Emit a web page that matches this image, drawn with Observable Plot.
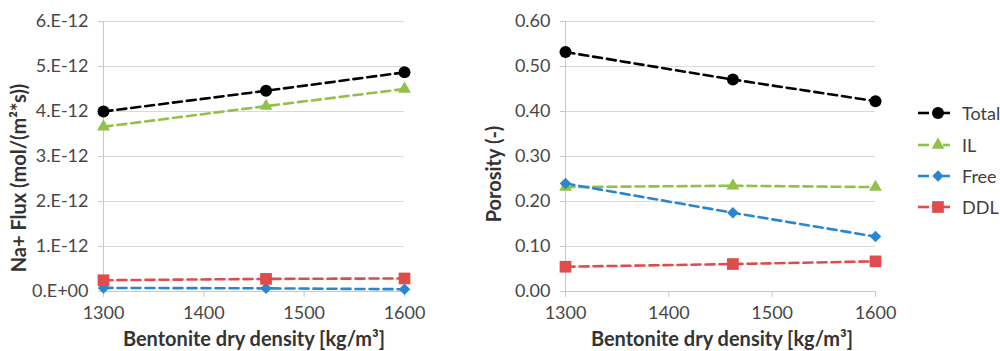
<!DOCTYPE html>
<html>
<head>
<meta charset="utf-8">
<script src="https://cdn.jsdelivr.net/npm/d3@7"></script>
<script src="https://cdn.jsdelivr.net/npm/@observablehq/plot@0.6"></script>
<style>
  body { margin: 0; background: #fff; }
  #wrap { position: relative; width: 1000px; height: 351px; overflow: hidden; font-family: Lato, "Open Sans", sans-serif; }
  .panel { position: absolute; top: 0; }
  .panel svg { overflow: visible; }
  .xtitle, .ytitle { position: absolute; font-weight: bold; font-size: 20px; color: #333; white-space: nowrap; }
  .xtitle { transform: translate(-50%, -50%); }
  .ytitle { transform: translate(-50%, -50%) rotate(-90deg); }
  .legend-row { position: absolute; left: 916px; height: 16px; display: flex; align-items: center; font-size: 18px; color: #404040; }
  .legend-row svg { margin-right: 10px; }
</style>
</head>
<body>
<div id="wrap"></div>
<script>
// Bentonite dry density (kg/m3) at which both quantities were evaluated
const density = [1300, 1462, 1600];

// Legend / series definitions
const seriesNames = ["Total", "IL", "Free", "DDL"];
const seriesColors = ["#000000", "#92c04a", "#2a87cf", "#e04b4b"];
const seriesSymbols = ["circle", "triangle", "diamond2", "square"];
const seriesRadius = [6, 4.8, 5.2, 6.6];

// Na+ flux, mol/(m2*s)
const fluxTotal = [4.0e-12, 4.46e-12, 4.87e-12];
const fluxIL = [3.66e-12, 4.12e-12, 4.5e-12];
const fluxFree = [0.08e-12, 0.07e-12, 0.05e-12];
const fluxDDL = [0.25e-12, 0.28e-12, 0.29e-12];

// Porosity, -
const porTotal = [0.532, 0.471, 0.423];
const porIL = [0.232, 0.235, 0.232];
const porFree = [0.240, 0.175, 0.122];
const porDDL = [0.055, 0.061, 0.067];

// Axis ticks
const xTicks = [1300, 1400, 1500, 1600];
const fluxTicks = [0, 1e-12, 2e-12, 3e-12, 4e-12, 5e-12, 6e-12];
const porTicks = [0, 0.1, 0.2, 0.3, 0.4, 0.5, 0.6];

// Excel-style "0.E+00" scientific labels
function sciLabel(v) {
  if (v === 0) return "0.E+00";
  const e = Math.floor(Math.log10(Math.abs(v)) + 1e-9);
  const m = Math.round(v / Math.pow(10, e));
  return `${m}.E${e < 0 ? "-" : "+"}${String(Math.abs(e)).padStart(2, "0")}`;
}

function toRows(seriesValues) {
  return seriesNames.flatMap((name, i) =>
    density.map((d, j) => ({ density: d, value: seriesValues[i][j], series: name }))
  );
}

function panel({ left, width, marginLeft, marginRight, values, yTicks, yFormat }) {
  const rows = toRows(values);
  const marks = [
    Plot.gridY(yTicks, { stroke: "#d9d9d9", strokeOpacity: 1 }),
    Plot.ruleX([1300], { stroke: "#c8c8c8", y1: yTicks[0], y2: yTicks[yTicks.length - 1] }),
    Plot.ruleY([0], { stroke: "#c8c8c8" }),
    Plot.axisY(yTicks, { tickSize: 5, tickPadding: 10, tickFormat: yFormat, stroke: "#c8c8c8", fill: "#474747", label: null }),
    Plot.axisX(xTicks, { tickSize: 6, tickPadding: 9, tickFormat: d => String(d), stroke: "#c8c8c8", fill: "#474747", label: null })
  ];
  seriesNames.forEach((name, i) => {
    const data = rows.filter(r => r.series === name);
    marks.push(Plot.line(data, {
      x: "density", y: "value", stroke: seriesColors[i],
      strokeWidth: 2.6, strokeDasharray: "9,5"
    }));
  });
  seriesNames.forEach((name, i) => {
    const data = rows.filter(r => r.series === name);
    marks.push(Plot.dot(data, {
      x: "density", y: "value", fill: seriesColors[i],
      symbol: seriesSymbols[i], r: seriesRadius[i], stroke: "none"
    }));
  });
  const chart = Plot.plot({
    width, height: 351,
    marginLeft, marginRight, marginTop: 21, marginBottom: 60,
    style: { fontFamily: "Lato, 'Open Sans', sans-serif", fontSize: "18px", background: "transparent", overflow: "visible" },
    x: { domain: [1300, 1600] },
    y: { domain: [yTicks[0], yTicks[yTicks.length - 1]] },
    marks
  });
  const div = document.createElement("div");
  div.className = "panel";
  div.style.left = left + "px";
  div.appendChild(chart);
  return div;
}

const wrap = document.getElementById("wrap");

wrap.appendChild(panel({
  left: 0, width: 430, marginLeft: 103, marginRight: 26,
  values: [fluxTotal, fluxIL, fluxFree, fluxDDL],
  yTicks: fluxTicks, yFormat: sciLabel
}));

wrap.appendChild(panel({
  left: 460, width: 440, marginLeft: 105, marginRight: 25,
  values: [porTotal, porIL, porFree, porDDL],
  yTicks: porTicks, yFormat: d3.format(".2f")
}));

// Axis titles
function addTitle(cls, text, x, y) {
  const el = document.createElement("div");
  el.className = cls;
  el.textContent = text;
  el.style.left = x + "px";
  el.style.top = y + "px";
  wrap.appendChild(el);
}
addTitle("xtitle", "Bentonite dry density [kg/m³]", 254, 338);
addTitle("xtitle", "Bentonite dry density [kg/m³]", 722, 338);
addTitle("ytitle", "Na+ Flux (mol/(m²*s))", 18, 178);
addTitle("ytitle", "Porosity (-)", 493, 174);

// Legend
const legendY = [113, 145, 176, 207];
seriesNames.forEach((name, i) => {
  const row = document.createElement("div");
  row.className = "legend-row";
  row.style.top = (legendY[i] - 8) + "px";
  const svg = d3.create("svg").attr("width", 36).attr("height", 16);
  svg.append("line").attr("x1", 2).attr("x2", 13).attr("y1", 8).attr("y2", 8)
    .attr("stroke", seriesColors[i]).attr("stroke-width", 2.6);
  svg.append("line").attr("x1", 27).attr("x2", 34).attr("y1", 8).attr("y2", 8)
    .attr("stroke", seriesColors[i]).attr("stroke-width", 2.6);
  const symbolType = {
    circle: d3.symbolCircle, triangle: d3.symbolTriangle,
    diamond2: d3.symbolDiamond2, square: d3.symbolSquare
  }[seriesSymbols[i]];
  const r = seriesRadius[i];
  svg.append("path")
    .attr("transform", "translate(22,8)")
    .attr("d", d3.symbol(symbolType, Math.PI * r * r)())
    .attr("fill", seriesColors[i]);
  row.appendChild(svg.node());
  const label = document.createElement("span");
  label.textContent = name;
  row.appendChild(label);
  wrap.appendChild(row);
});
</script>
</body>
</html>
